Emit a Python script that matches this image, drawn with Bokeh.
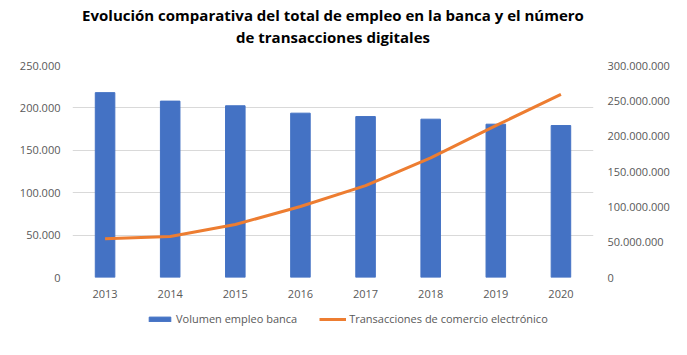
from bokeh.plotting import figure
from bokeh.layouts import column
from bokeh.models import (Range1d, LinearAxis, FixedTicker, CustomJSTickFormatter,
                          Legend, LegendItem, Title, ColumnDataSource)
from bokeh.embed import file_html
from bokeh.resources import INLINE

years = ["2013", "2014", "2015", "2016", "2017", "2018", "2019", "2020"]
empleo = [218000, 208000, 202500, 193800, 189800, 186700, 180800, 179200]
transacciones = [54800000, 58000000, 75000000, 100500000, 130000000, 169400000, 215000000, 259000000]
left_ticks = [0, 50000, 100000, 150000, 200000, 250000]
right_ticks = [0, 50000000, 100000000, 150000000, 200000000, 250000000, 300000000]

title_1 = "Evolución comparativa del total de empleo en la banca y el número"
title_2 = "de transacciones digitales"
series_bar = "Volumen empleo banca"
series_line = "Transacciones de comercio electrónico"

FONT = "Open Sans"
GREY = "#595959"
BLUE = "#4472C4"
ORANGE = "#ED7D31"

src = ColumnDataSource(dict(year=years, empleo=empleo, trans=transacciones))

p = figure(x_range=years, y_range=Range1d(0, 250000),
           frame_width=521, frame_height=212,
           output_backend="svg", toolbar_location=None,
           min_border_left=72, min_border_right=94, min_border_bottom=23, min_border_top=65)
p.title = None
p.outline_line_color = None
p.background_fill_color = "white"
p.border_fill_color = "white"

p.extra_y_ranges = {"right": Range1d(0, 300000000)}

fmt = CustomJSTickFormatter(code="return Math.round(tick).toString().replace(/\\B(?=(\\d{3})+(?!\\d))/g, '.');")

ya = p.yaxis[0]
ya.ticker = FixedTicker(ticks=left_ticks)
ya.formatter = fmt
ya.axis_line_color = None
ya.major_tick_line_color = None
ya.minor_tick_line_color = None
ya.major_label_text_font = FONT
ya.major_label_text_font_size = "11px"
ya.major_label_text_color = GREY
ya.major_label_standoff = 6

ra = LinearAxis(y_range_name="right", ticker=FixedTicker(ticks=right_ticks), formatter=fmt)
ra.axis_line_color = None
ra.major_tick_line_color = None
ra.minor_tick_line_color = None
ra.major_label_text_font = FONT
ra.major_label_text_font_size = "11px"
ra.major_label_text_color = GREY
ra.major_label_standoff = 8
p.add_layout(ra, "right")

xa = p.xaxis[0]
xa.axis_line_color = None
xa.major_tick_line_color = None
xa.minor_tick_line_color = None
xa.major_label_text_font = FONT
xa.major_label_text_font_size = "11px"
xa.major_label_text_color = GREY
xa.major_label_standoff = 6

p.xgrid.grid_line_color = None
p.ygrid.grid_line_color = "#d9d9d9"
p.ygrid.grid_line_width = 1

p.vbar(x="year", top="empleo", width=0.3, source=src, color=BLUE)
p.line(x="year", y="trans", source=src, y_range_name="right",
       line_color=ORANGE, line_width=3)

t3 = Title(text=" ", align="center", text_font=FONT, text_font_size="12px", standoff=0)
t2 = Title(text=title_2, align="center", text_font=FONT, text_font_size="15px",
           text_font_style="bold", text_color="black", standoff=0)
t1 = Title(text=title_1, align="center", text_font=FONT, text_font_size="15px",
           text_font_style="bold", text_color="black", standoff=0)
p.add_layout(t3, "above")
p.add_layout(t2, "above")
p.add_layout(t1, "above")

# legend strip below the chart (same series, drawn far outside its visible range)
pl = figure(x_range=years, y_range=Range1d(1e12, 2e12), width=687, height=55,
            output_backend="svg", toolbar_location=None,
            min_border_left=0, min_border_right=0, min_border_top=0, min_border_bottom=0)
pl.axis.visible = False
pl.grid.grid_line_color = None
pl.outline_line_color = None
pl.border_fill_color = "white"
lb = pl.vbar(x="year", top="empleo", width=0.3, source=src, color=BLUE)
ll = pl.line(x="year", y="trans", source=src, line_color=ORANGE, line_width=3)

legend = Legend(items=[LegendItem(label=series_bar, renderers=[lb]),
                       LegendItem(label=series_line, renderers=[ll])],
                orientation="horizontal", location=(74, 29))
legend.label_text_font = FONT
legend.label_text_font_size = "11px"
legend.label_text_color = GREY
legend.border_line_color = None
legend.background_fill_alpha = 0
legend.glyph_width = 27
legend.glyph_height = 6
legend.spacing = 22
legend.label_standoff = 3
legend.padding = 4
legend.margin = 0
pl.add_layout(legend, "center")

layout = column(p, pl, spacing=0)
open("out.html", "w").write(file_html(layout, INLINE))
